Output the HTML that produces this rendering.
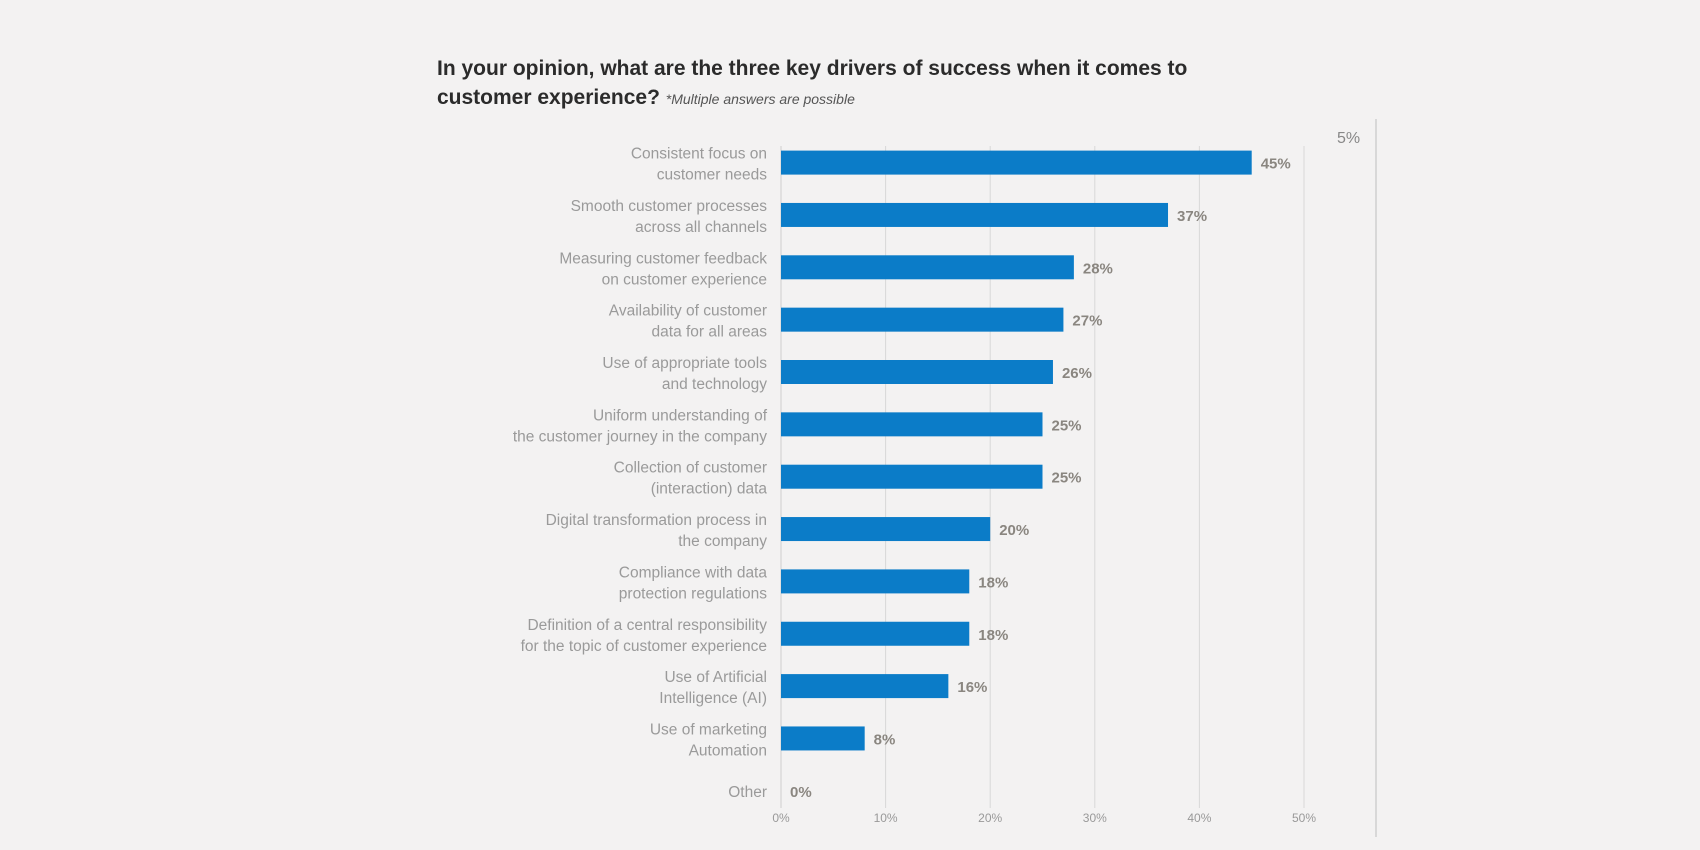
<!DOCTYPE html>
<html><head><meta charset="utf-8"><style>
html,body{margin:0;padding:0;background:#f3f2f2;}
svg{display:block;font-family:"Liberation Sans",sans-serif;}
</style></head><body>
<svg id="chart" width="1700" height="850">
<rect x="0" y="0" width="1700" height="850" fill="#f3f2f2"/>
<text x="437" y="75" font-size="21" font-weight="bold" fill="#2b2b2b">In your opinion, what are the three key drivers of success when it comes to</text>
<text x="437" y="104" font-size="21" font-weight="bold" fill="#2b2b2b">customer experience? <tspan font-size="14" font-weight="normal" font-style="italic" fill="#555">*Multiple answers are possible</tspan></text>
<line x1="1376" y1="119" x2="1376" y2="837" stroke="#d0d0d0" stroke-width="1.5"/>
<text x="1337" y="143" font-size="16" fill="#888">5%</text>
<g id="grid"></g><g id="bars"></g>
</svg>
<script>
const categories = [
 ["Consistent focus on","customer needs"],
 ["Smooth customer processes","across all channels"],
 ["Measuring customer feedback","on customer experience"],
 ["Availability of customer","data for all areas"],
 ["Use of appropriate tools","and technology"],
 ["Uniform understanding of","the customer journey in the company"],
 ["Collection of customer","(interaction) data"],
 ["Digital transformation process in","the company"],
 ["Compliance with data","protection regulations"],
 ["Definition of a central responsibility","for the topic of customer experience"],
 ["Use of Artificial","Intelligence (AI)"],
 ["Use of marketing","Automation"],
 ["Other"]
];
const values = [45,37,28,27,26,25,25,20,18,18,16,8,0];
const ticks = [0,10,20,30,40,50];
const tickLabels = ["0%","10%","20%","30%","40%","50%"];

const NS="http://www.w3.org/2000/svg";
const x0=781, pxPer=10.46, y0=162.6, step=52.35, bh=24;
const xs=v=>x0+v*pxPer;
const ys=i=>y0+i*step;
const grid=document.getElementById('grid'), bars=document.getElementById('bars');
function mk(tag,attrs,parent){const e=document.createElementNS(NS,tag);for(const k in attrs)e.setAttribute(k,attrs[k]);parent.appendChild(e);return e;}
ticks.forEach((t,i)=>{
 const l=mk('line',{x1:xs(t),x2:xs(t),y1:146,y2:808,stroke:t===0?'#cfcfcf':'#d8d8d8','stroke-width':1},grid);
 
 
 const tx=mk('text',{x:xs(t),y:822,'font-size':12,fill:'#999','text-anchor':'middle'},grid);
 tx.textContent=tickLabels[i];
 
 
});
categories.forEach((c,i)=>{
 const cy=ys(i);
 const r=mk('rect',{x:x0,y:cy-bh/2,width:Math.max(0,xs(values[i])-x0),height:bh,fill:'#0b7cc8'},bars);
 
 
 const v=mk('text',{x:xs(values[i])+9,y:cy+6,'font-size':15,'font-weight':'bold',fill:'#8a8680'},bars);
 v.textContent=values[i]+'%';
 
 
 const lab=mk('text',{x:767,'font-size':15.5,fill:'#9a9a9a','text-anchor':'end'},bars);
 
 
 if(c.length===2){
  lab.setAttribute('y',cy-4);
  const a=mk('tspan',{x:767},lab);a.textContent=c[0];
  const b=mk('tspan',{x:767,dy:21},lab);b.textContent=c[1];
 } else {lab.setAttribute('y',cy+6);lab.textContent=c[0];}
});
</script>
</body></html>
